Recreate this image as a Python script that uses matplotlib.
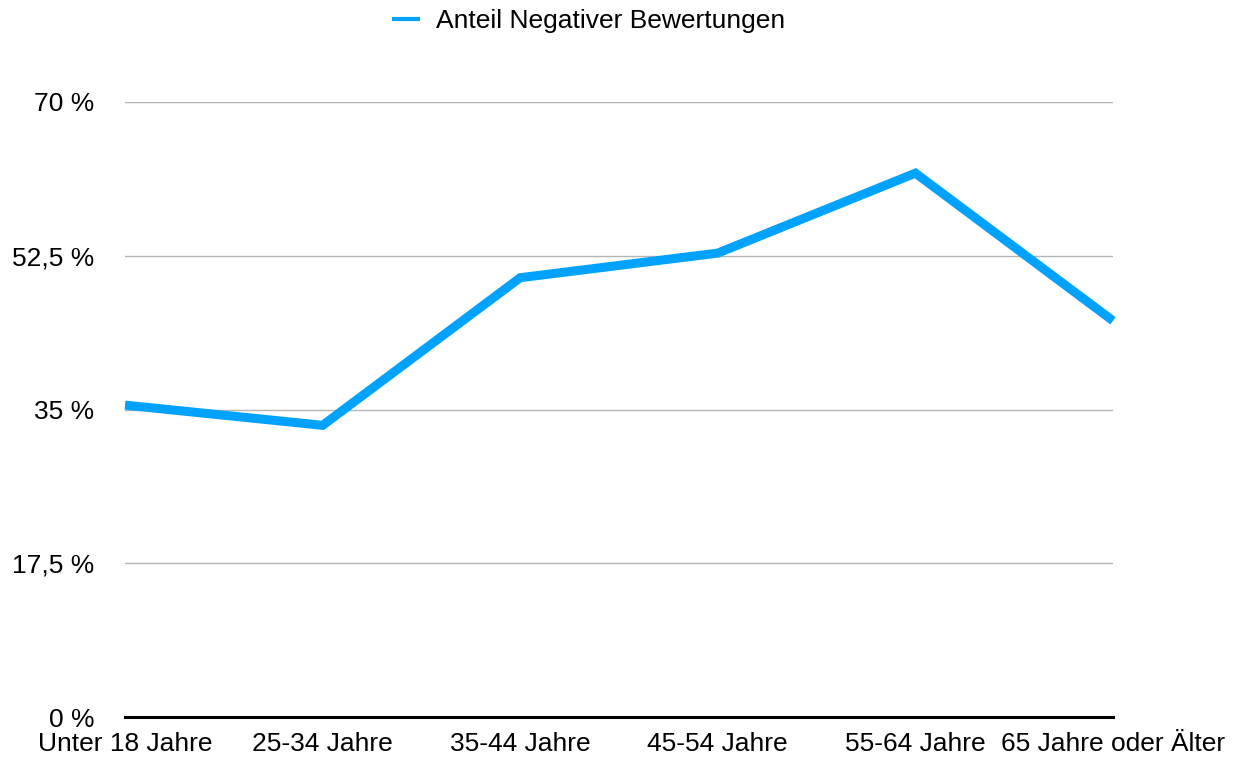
import matplotlib.pyplot as plt
from matplotlib.lines import Line2D
from matplotlib.ticker import FuncFormatter

plt.rcParams['font.family'] = ['Liberation Sans', 'DejaVu Sans']

age_groups = ["Unter 18 Jahre", "25-34 Jahre", "35-44 Jahre", "45-54 Jahre",
              "55-64 Jahre", "65 Jahre oder Älter"]
negative_share = [35.5, 33.2, 50.0, 52.8, 61.9, 45.1]
y_ticks = [0, 17.5, 35, 52.5, 70]

blue = "#00a2ff"
fs = 19

fig = plt.figure(figsize=(12.43, 7.65), dpi=100)
ax = fig.add_axes([0.1006, 0.0627, 0.7948, 0.804])

x = list(range(len(age_groups)))
ax.plot(x, negative_share, color=blue, linewidth=6.5, solid_joinstyle="miter",
        solid_capstyle="butt", clip_on=False, zorder=3)

ax.set_xlim(0, len(age_groups) - 1)
ax.set_ylim(0, 70)
ax.set_yticks(y_ticks)
ax.yaxis.set_major_formatter(FuncFormatter(
    lambda v, p: (f"{v:g}".replace(".", ",")) + " %"))
ax.set_xticks(x)
ax.set_xticklabels(age_groups)

ax.grid(axis="y", color="#b4b4b4", linewidth=1)
ax.set_axisbelow(True)
for s in ["top", "right", "left"]:
    ax.spines[s].set_visible(False)
ax.spines["bottom"].set_linewidth(2.2)
ax.spines["bottom"].set_color("black")
ax.spines["bottom"].set_zorder(5)
ax.tick_params(axis="both", length=0, labelsize=fs)
ax.tick_params(axis="y", pad=22)
ax.tick_params(axis="x", pad=11)

handle = Line2D([], [], color=blue, linewidth=3, solid_capstyle="butt")
fig.legend([handle], ["Anteil Negativer Bewertungen"], loc="center",
           bbox_to_anchor=(0.4735, 0.972), frameon=False, fontsize=fs,
           handlelength=1.05, handletextpad=0.6)

fig.savefig("out.png", dpi=100)
